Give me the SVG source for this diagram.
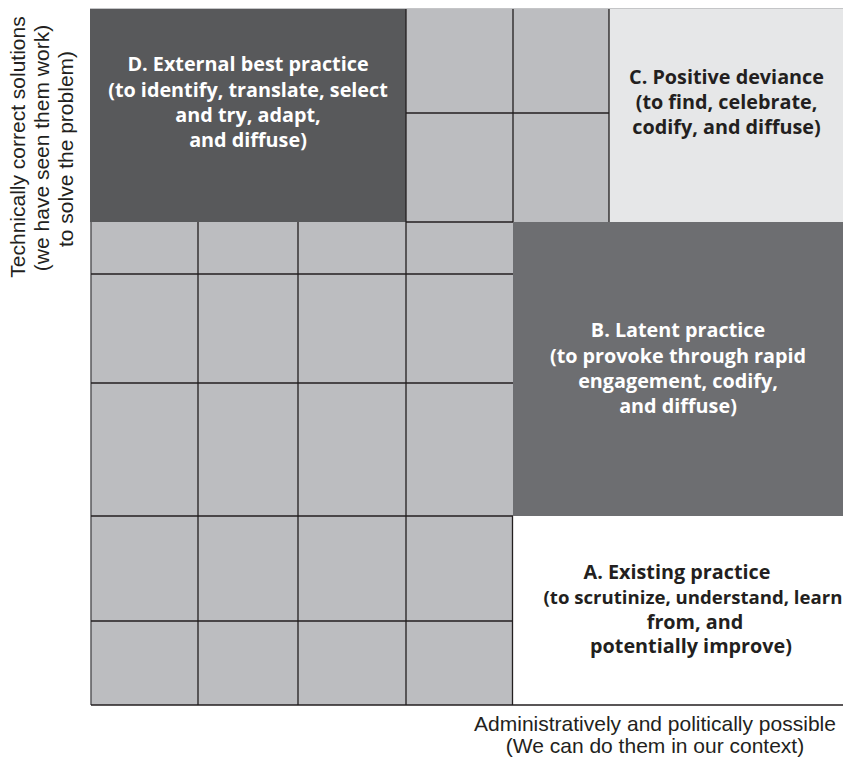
<svg xmlns="http://www.w3.org/2000/svg" width="843" height="762" viewBox="0 0 843 762">
<style>
.cell{fill:#bcbdc0}
.ln{stroke:#231f20;stroke-width:1.3;fill:none}
.lbl{font-family:"Open Sans","Noto Sans","Liberation Sans",sans-serif;font-weight:bold;font-size:19.8px;text-anchor:middle}
.w{fill:#ffffff}
.k{fill:#231f20}
.ax{font-family:"Liberation Sans",Arial,sans-serif;font-size:21px;fill:#231f20;text-anchor:middle}
</style>
<rect x="0" y="0" width="843" height="762" fill="#ffffff"/>
<g id="grid-cells">
<rect class="cell" x="91" y="222" width="422" height="483"/>
<rect class="cell" x="406" y="9" width="203" height="213"/>
</g>
<g id="node-D">
<rect x="90" y="9" width="316" height="213" fill="#58595b"/>
<text class="lbl w"><tspan x="248" y="71">D. External best practice</tspan><tspan x="248" y="96.5">(to identify, translate, select</tspan><tspan x="248" y="121.5">and try, adapt,</tspan><tspan x="248" y="146.5">and diffuse)</tspan></text>
</g>
<g id="node-C">
<rect x="609" y="9" width="234" height="213" fill="#e6e7e8"/>
<text class="lbl k"><tspan x="726.5" y="84">C. Positive deviance</tspan><tspan x="726.5" y="109">(to find, celebrate,</tspan><tspan x="726.5" y="134">codify, and diffuse)</tspan></text>
</g>
<g id="node-B">
<rect x="513" y="222" width="330" height="294" fill="#6d6e71"/>
<text class="lbl w"><tspan x="678" y="337">B. Latent practice</tspan><tspan x="678" y="363">(to provoke through rapid</tspan><tspan x="678" y="388">engagement, codify,</tspan><tspan x="678" y="413">and diffuse)</tspan></text>
</g>
<g id="node-A">
<rect x="513" y="516" width="330" height="189" fill="#ffffff"/>
<text class="lbl k"><tspan x="677" y="579">A. Existing practice</tspan><tspan x="693" y="604" font-size="18.6px">(to scrutinize, understand, learn</tspan><tspan x="695" y="628.5">from, and</tspan><tspan x="691" y="653">potentially improve)</tspan></text>
</g>
<g id="grid-lines">
<line x1="90" y1="8.5" x2="843" y2="8.5" stroke="#c4c5c7" stroke-width="1.2"/>
<line x1="91" y1="222" x2="91" y2="705" stroke="#58595b" stroke-width="1.5"/>
<path class="ln" d="M198 222V705M298 222V705M406 9V705M513 9V222M512.5 516V705M609 9V222"/>
<path class="ln" d="M91 274H513M91 383H513M91 516H513M91 621H513M406 113H609M406 222H513M91 705H843"/>
</g>
<g id="axis-y">
<text class="ax" transform="translate(25,147) rotate(-90)">Technically correct solutions</text>
<text class="ax" transform="translate(49,148) rotate(-90)">(we have seen them work)</text>
<text class="ax" transform="translate(73,149) rotate(-90)">to solve the problem)</text>
</g>
<g id="axis-x">
<text class="ax"><tspan x="655" y="730.5">Administratively and politically possible</tspan><tspan x="655" y="752.5">(We can do them in our context)</tspan></text>
</g>
</svg>
